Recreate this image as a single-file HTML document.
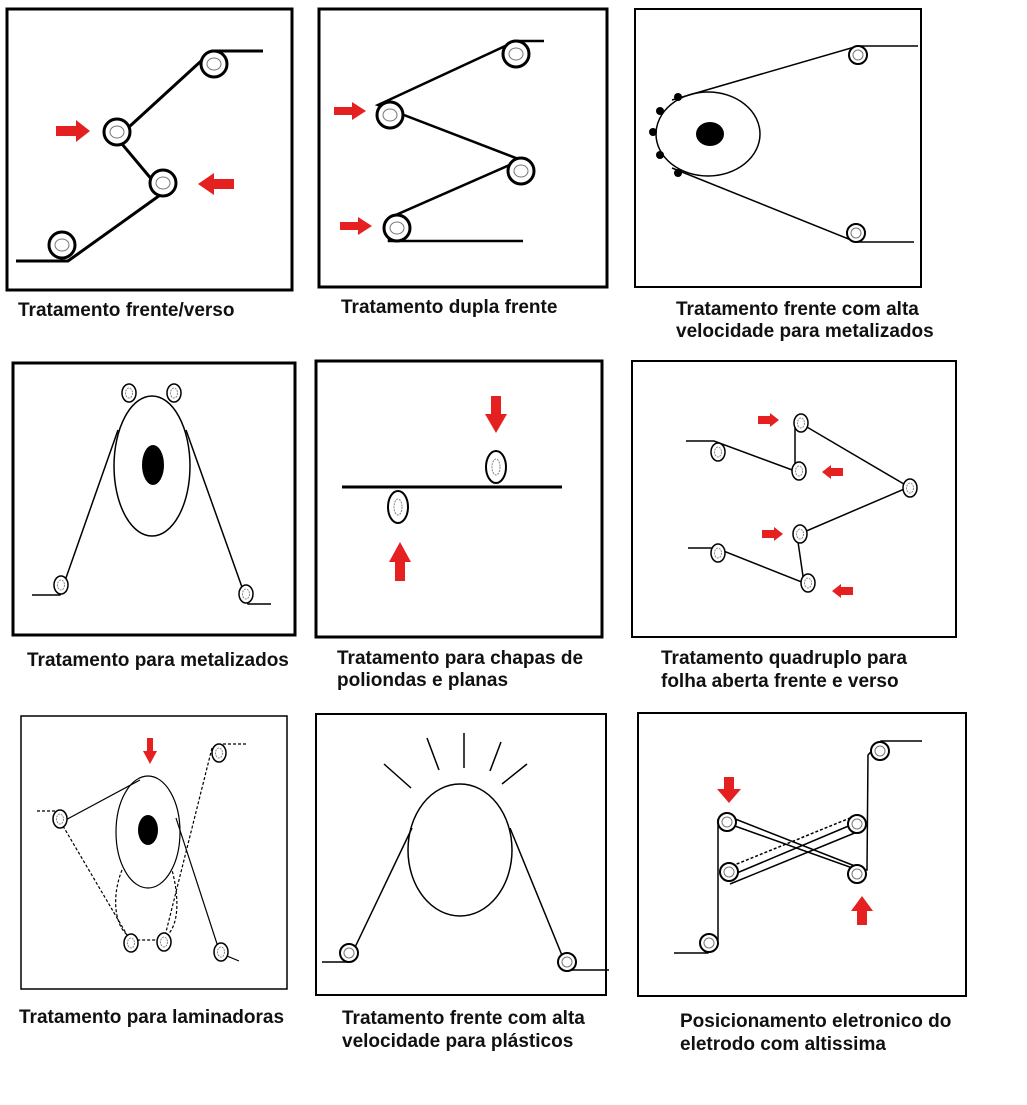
<!DOCTYPE html>
<html><head><style>
body{margin:0;background:#fff;width:1027px;height:1100px;overflow:hidden}
svg text{font-family:"Liberation Sans",sans-serif;font-weight:bold;font-size:19px;fill:#111}
</style></head><body>
<svg width="1027" height="1100" viewBox="0 0 1027 1100" xmlns="http://www.w3.org/2000/svg">
<defs>
<g id="rl"><circle r="13" fill="#fff" stroke="#000" stroke-width="3"/><ellipse rx="7" ry="6" fill="none" stroke="#777" stroke-width="1"/></g>
<g id="rs"><ellipse rx="7" ry="9" fill="#fff" stroke="#000" stroke-width="1.5"/><ellipse rx="3.5" ry="5" fill="none" stroke="#888" stroke-width="1" stroke-dasharray="2 1"/></g>
<g id="rm"><circle r="9" fill="#fff" stroke="#000" stroke-width="2"/><circle r="5" fill="none" stroke="#777" stroke-width="1"/></g>
</defs>
<g fill="none" stroke="#000">
<rect x="7" y="9" width="285" height="281" stroke-width="3"/>
<rect x="319" y="9" width="288" height="278" stroke-width="3"/>
<rect x="635" y="9" width="286" height="278" stroke-width="2"/>
<rect x="13" y="363" width="282" height="272" stroke-width="3"/>
<rect x="316" y="361" width="286" height="276" stroke-width="3"/>
<rect x="632" y="361" width="324" height="276" stroke-width="2"/>
<rect x="21" y="716" width="266" height="273" stroke-width="1.5"/>
<rect x="316" y="714" width="290" height="281" stroke-width="2"/>
<rect x="638" y="713" width="328" height="283" stroke-width="2"/>
</g>
<!-- panel 1 -->
<polyline points="16,261 68,261 163,193 117,138 212,51 263,51" stroke="#000" stroke-width="3" fill="none"/>
<use href="#rl" x="62" y="245"/><use href="#rl" x="163" y="183"/><use href="#rl" x="117" y="132"/><use href="#rl" x="214" y="64"/>
<polygon points="56,126 76,126 76,120 90,131 76,142 76,136 56,136" fill="#e52020"/>
<polygon points="234,179 214,179 214,173 198,184 214,195 214,189 234,189" fill="#e52020"/>
<!-- panel 2 -->
<polyline points="544,41 516,41 378,105 521,160 389,218 389,241 523,241" stroke="#000" stroke-width="2.5" fill="none"/>
<use href="#rl" x="516" y="54"/><use href="#rl" x="390" y="115"/><use href="#rl" x="521" y="171"/><use href="#rl" x="397" y="228"/>
<polygon points="334,107 352,107 352,102 366,111 352,120 352,115 334,115" fill="#e52020"/>
<polygon points="340,222 358,222 358,217 372,226 358,235 358,230 340,230" fill="#e52020"/>
<!-- panel 3 -->
<g stroke="#000" stroke-width="1.5" fill="none">
<polyline points="918,46 858,46 672,100"/><polyline points="672,168 856,242 914,242"/>
<ellipse cx="708" cy="134" rx="52" ry="42"/>
</g>
<ellipse cx="710" cy="134" rx="14" ry="12" fill="#000"/>
<circle cx="678" cy="97" r="4" fill="#000"/><circle cx="660" cy="111" r="4" fill="#000"/><circle cx="653" cy="132" r="4" fill="#000"/><circle cx="660" cy="155" r="4" fill="#000"/><circle cx="678" cy="173" r="4" fill="#000"/>
<use href="#rm" x="858" y="55"/><use href="#rm" x="856" y="233"/>
<!-- panel 4 -->
<g stroke="#000" stroke-width="1.5" fill="none">
<ellipse cx="152" cy="466" rx="38" ry="70"/>
<polyline points="32,595 60,595 118,430"/><polyline points="186,430 248,604 271,604"/>
</g>
<ellipse cx="153" cy="465" rx="11" ry="20" fill="#000"/>
<use href="#rs" x="129" y="393"/><use href="#rs" x="174" y="393"/><use href="#rs" x="61" y="585"/><use href="#rs" x="246" y="594"/>
<!-- panel 5 -->
<line x1="342" y1="487" x2="562" y2="487" stroke="#000" stroke-width="3"/>
<ellipse cx="496" cy="467" rx="10" ry="16" fill="#fff" stroke="#000" stroke-width="2"/><ellipse cx="496" cy="467" rx="4" ry="8" fill="none" stroke="#888" stroke-dasharray="2 1"/>
<ellipse cx="398" cy="507" rx="10" ry="16" fill="#fff" stroke="#000" stroke-width="2"/><ellipse cx="398" cy="507" rx="4" ry="8" fill="none" stroke="#888" stroke-dasharray="2 1"/>
<polygon points="491,396 501,396 501,414 507,414 496,433 485,414 491,414" fill="#e52020"/>
<polygon points="395,581 405,581 405,562 411,562 400,542 389,562 395,562" fill="#e52020"/>
<!-- panel 6 -->
<polyline points="686,441 714,441 795,471 795,420 909,487 797,535 804,583 716,548 688,548" stroke="#000" stroke-width="1.5" fill="none"/>
<use href="#rs" x="718" y="452"/><use href="#rs" x="801" y="423"/><use href="#rs" x="799" y="471"/><use href="#rs" x="910" y="488"/><use href="#rs" x="800" y="534"/><use href="#rs" x="718" y="553"/><use href="#rs" x="808" y="583"/>
<polygon points="758,416 770,416 770,413 779,420 770,427 770,424 758,424" fill="#e52020"/>
<polygon points="843,468 831,468 831,465 822,472 831,479 831,476 843,476" fill="#e52020"/>
<polygon points="762,530 774,530 774,527 783,534 774,541 774,538 762,538" fill="#e52020"/>
<polygon points="853,587 841,587 841,584 832,591 841,598 841,595 853,595" fill="#e52020"/>
<!-- panel 7 -->
<g stroke="#000" stroke-width="1.2" fill="none">
<ellipse cx="148" cy="832" rx="32" ry="56"/>
<polyline points="60,823 140,780"/>
<polyline points="176,818 220,953 239,961"/>
</g>
<g stroke="#000" stroke-width="1.2" fill="none" stroke-dasharray="3 2">
<line x1="37" y1="811" x2="58" y2="811"/><line x1="223" y1="744" x2="246" y2="744"/>
<polyline points="63,826 130,940"/><polyline points="212,748 164,940"/>
<path d="M122,870 C110,900 115,935 137,940 L158,940 C180,935 180,900 172,870"/>
</g>
<use href="#rs" x="60" y="819"/><use href="#rs" x="219" y="753"/><use href="#rs" x="131" y="943"/><use href="#rs" x="164" y="942"/><use href="#rs" x="221" y="952"/>
<ellipse cx="148" cy="830" rx="10" ry="15" fill="#000"/>
<polygon points="147,738 153,738 153,751 157,751 150,764 143,751 147,751" fill="#e52020"/>
<!-- panel 8 -->
<g stroke="#000" stroke-width="1.5" fill="none">
<ellipse cx="460" cy="850" rx="52" ry="66"/>
<polyline points="322,962 348,962 412,828"/><polyline points="510,828 568,970 609,970"/>
<line x1="384" y1="764" x2="411" y2="788"/><line x1="427" y1="738" x2="439" y2="770"/><line x1="464" y1="733" x2="464" y2="768"/><line x1="501" y1="742" x2="490" y2="771"/><line x1="527" y1="764" x2="502" y2="784"/>
</g>
<use href="#rm" x="349" y="953"/><use href="#rm" x="567" y="962"/>
<!-- panel 9 -->
<g stroke="#000" stroke-width="1.5" fill="none">
<polyline points="674,953 708,953 718,940 718,820 858,870 867,870 868,755 881,741 922,741"/>
<line x1="725" y1="815" x2="860" y2="868"/>
<line x1="725" y1="878" x2="858" y2="822"/><line x1="730" y1="884" x2="862" y2="830"/>
</g>
<line x1="732" y1="866" x2="855" y2="816" stroke="#000" stroke-width="1.5" stroke-dasharray="3 2"/>
<use href="#rm" x="880" y="751"/><use href="#rm" x="727" y="822"/><use href="#rm" x="857" y="824"/><use href="#rm" x="729" y="872"/><use href="#rm" x="857" y="874"/><use href="#rm" x="709" y="943"/>
<polygon points="724,777 734,777 734,789 741,789 729,803 717,789 724,789" fill="#e52020"/>
<polygon points="857,925 867,925 867,911 873,911 862,896 851,911 857,911" fill="#e52020"/>
<!-- labels -->
<text x="18" y="316">Tratamento frente/verso</text>
<text x="341" y="313">Tratamento dupla frente</text>
<text x="676" y="315">Tratamento frente com alta</text>
<text x="676" y="337">velocidade para metalizados</text>
<text x="27" y="666">Tratamento para metalizados</text>
<text x="337" y="664">Tratamento para chapas de</text>
<text x="337" y="686">poliondas e planas</text>
<text x="661" y="664">Tratamento quadruplo para</text>
<text x="661" y="687">folha aberta frente e verso</text>
<text x="19" y="1023">Tratamento para laminadoras</text>
<text x="342" y="1024">Tratamento frente com alta</text>
<text x="342" y="1047">velocidade para plásticos</text>
<text x="680" y="1027">Posicionamento eletronico do</text>
<text x="680" y="1050">eletrodo com altissima</text>
</svg>
</body></html>
